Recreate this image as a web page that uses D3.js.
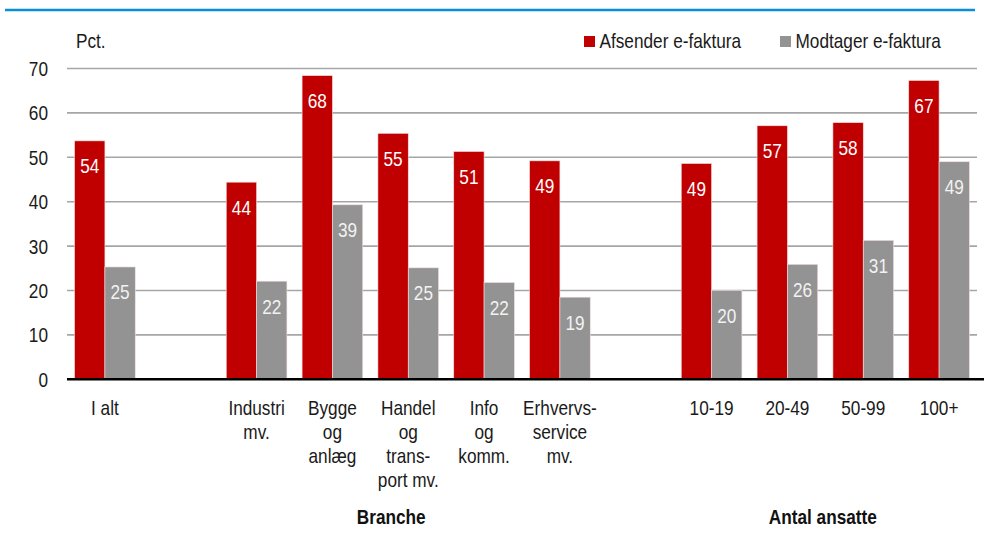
<!DOCTYPE html>
<html>
<head>
<meta charset="utf-8">
<script src="https://cdn.jsdelivr.net/npm/d3@7"></script>
<style>
    body { margin: 0; background: #fff; }
    svg text { font-family: "Liberation Sans", Arial, sans-serif; }
</style>
</head>
<body>
<div id="chart"></div>
<script>
// categories (gap1 / gap2 are empty slots between the groups)
var categories = ["I alt", "gap1", "Industri mv.", "Bygge og anlæg", "Handel og transport mv.",
    "Info og komm.", "Erhvervsservice mv.", "gap2", "10-19", "20-49", "50-99", "100+"];
var labelLines = [["I alt"], [], ["Industri", "mv."], ["Bygge", "og", "anlæg"],
    ["Handel", "og", "trans-", "port mv."], ["Info", "og", "komm."], ["Erhvervs-", "service", "mv."],
    [], ["10-19"], ["20-49"], ["50-99"], ["100+"]];
var afsender = [53.7, null, 44.4, 68.4, 55.4, 51.3, 49.2, null, 48.6, 57.1, 57.8, 67.3];
var modtager = [25.3, null, 22.1, 39.3, 25.1, 21.8, 18.5, null, 20.0, 25.9, 31.3, 49.0];
var series = ["Afsender e-faktura", "Modtager e-faktura"];
var colors = ["#c00000", "#939393"];
var yTicks = [0, 10, 20, 30, 40, 50, 60, 70];
var groupLabels = [
    {text: "Branche", from: "Industri mv.", to: "Erhvervsservice mv.", shift: -17},
    {text: "Antal ansatte", from: "10-19", to: "100+", shift: -2.5}
];

var width = 985, height = 545;
var fs = 21, squeeze = 0.82;   // no narrow font installed, so squeeze the regular one

var svg = d3.select("#chart").append("svg")
    .attr("width", width)
    .attr("height", height);

var x = d3.scaleBand().domain(categories).range([67, 977])
    .paddingInner(0.2).paddingOuter(0.1);
var x1 = d3.scaleBand().domain(series).range([0, x.bandwidth()]);
var y = d3.scaleLinear().domain([0, 70]).range([379.3, 68.5]);

function narrow(sel, fx, fy) {
    sel.attr("transform", function(d, i) {
        return "translate(" + fx(d, i) + "," + fy(d, i) + ") scale(" + squeeze + ",1)";
    });
}

// blue rule on top
svg.append("line")
    .attr("x1", 5).attr("x2", 975)
    .attr("y1", 10).attr("y2", 10)
    .attr("stroke", "#0a8fd6").attr("stroke-width", 2.5);

// grid
svg.append("g")
    .selectAll("line")
    .data(yTicks.slice(1))
    .enter().append("line")
    .attr("x1", 67).attr("x2", 977)
    .attr("y1", function(d) { return y(d); })
    .attr("y2", function(d) { return y(d); })
    .attr("stroke", "#a6a6a6").attr("stroke-width", 1.6);

// y labels
svg.append("g")
    .selectAll("text")
    .data(yTicks)
    .enter().append("text")
    .attr("text-anchor", "end")
    .attr("font-size", fs)
    .attr("fill", "#1a1a1a")
    .call(narrow, function() { return 48; }, function(d) { return y(d) + 7.5; })
    .text(function(d) { return d; });

svg.append("text")
    .attr("font-size", fs)
    .attr("fill", "#1a1a1a")
    .call(narrow, function() { return 76; }, function() { return 48; })
    .text("Pct.");

// bars
var rows = categories.map(function(c, i) {
    return {cat: c, values: [afsender[i], modtager[i]]};
}).filter(function(d) { return d.values[0] != null; });

var groups = svg.append("g")
    .selectAll("g")
    .data(rows)
    .enter().append("g")
    .attr("transform", function(d) { return "translate(" + x(d.cat) + ",0)"; });

var cells = groups.selectAll("g")
    .data(function(d) { return d.values.map(function(v, i) { return {s: series[i], v: v, i: i}; }); })
    .enter().append("g");

cells.append("rect")
    .attr("x", function(d) { return x1(d.s); })
    .attr("width", x1.bandwidth())
    .attr("y", function(d) { return y(d.v); })
    .attr("height", function(d) { return y(0) - y(d.v); })
    .attr("fill", function(d) { return colors[d.i]; })
    .attr("stroke", "#f4dede")
    .attr("stroke-width", 0.6);

cells.append("text")
    .attr("text-anchor", "middle")
    .attr("font-size", fs)
    .attr("fill", function(d) { return d.i == 0 ? "#ffffff" : "#f2f2f2"; })
    .call(narrow, function(d) { return x1(d.s) + x1.bandwidth() / 2; },
        function(d) { return y(d.v) + 32.5; })
    .text(function(d) { return Math.round(d.v); });

// zero line
svg.append("line")
    .attr("x1", 67).attr("x2", 984)
    .attr("y1", y(0)).attr("y2", y(0))
    .attr("stroke", "#000").attr("stroke-width", 2.6);

// category labels, one text per line
var lines = [];
categories.forEach(function(c, i) {
    labelLines[i].forEach(function(t, j) { lines.push({cat: c, text: t, row: j}); });
});

svg.append("g")
    .selectAll("text")
    .data(lines)
    .enter().append("text")
    .attr("text-anchor", "middle")
    .attr("font-size", fs)
    .attr("fill", "#1a1a1a")
    .call(narrow, function(d) { return x(d.cat) + x.bandwidth() / 2; },
        function(d) { return 414.5 + d.row * 24.3; })
    .text(function(d) { return d.text; });

// group labels
svg.append("g")
    .selectAll("text")
    .data(groupLabels)
    .enter().append("text")
    .attr("text-anchor", "middle")
    .attr("font-size", fs)
    .attr("font-weight", "bold")
    .attr("fill", "#111")
    .call(narrow, function(d) { return (x(d.from) + x(d.to) + x.bandwidth()) / 2 + d.shift; },
        function() { return 523.5; })
    .text(function(d) { return d.text; });

// legend
var legend = svg.append("g")
    .selectAll("g")
    .data(series)
    .enter().append("g")
    .attr("transform", function(d, i) { return "translate(" + [584, 780][i] + ",0)"; });

legend.append("rect")
    .attr("x", 0).attr("y", 36)
    .attr("width", 11).attr("height", 11)
    .attr("fill", function(d, i) { return colors[i]; });

legend.append("text")
    .attr("font-size", fs)
    .attr("fill", "#1a1a1a")
    .call(narrow, function() { return 15.5; }, function() { return 47.5; })
    .text(function(d) { return d; });
</script>
</body>
</html>
